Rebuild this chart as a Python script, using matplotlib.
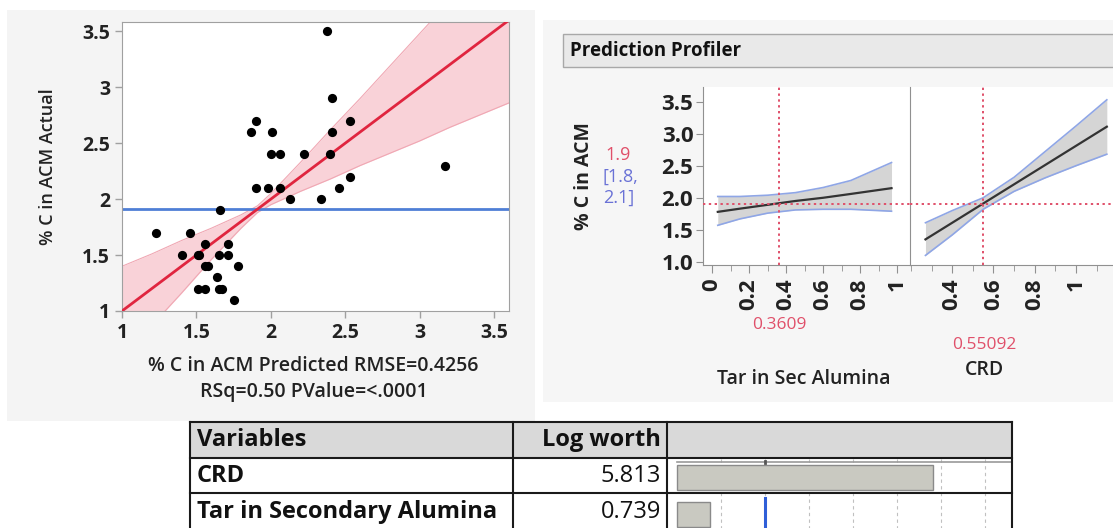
import matplotlib
matplotlib.use("Agg")
import matplotlib.pyplot as plt
from matplotlib.patches import Rectangle
from matplotlib.ticker import FixedLocator, MultipleLocator

W, H = 1113, 528
plt.rcParams['font.family'] = ['Open Sans', 'DejaVu Sans']

# ---------------- data ----------------
pred_x = [1.23, 1.40, 1.46, 1.51, 1.52, 1.51, 1.56, 1.56, 1.56, 1.58, 1.64, 1.65, 1.65, 1.67,
          1.66, 1.71, 1.71, 1.78, 1.75, 1.87, 1.90, 1.90, 1.98, 2.00, 2.01, 2.06, 2.06, 2.13,
          2.22, 2.34, 2.38, 2.41, 2.41, 2.40, 2.46, 2.53, 2.53, 3.17]
actual_y = [1.7, 1.5, 1.7, 1.5, 1.5, 1.2, 1.2, 1.6, 1.4, 1.4, 1.3, 1.5, 1.2, 1.2,
            1.9, 1.6, 1.5, 1.4, 1.1, 2.6, 2.7, 2.1, 2.1, 2.4, 2.6, 2.4, 2.1, 2.0,
            2.4, 2.0, 3.5, 2.9, 2.6, 2.4, 2.1, 2.7, 2.2, 2.3]
mean_actual = 1.91
fit_x = [1.0, 3.6]
fit_y = [1.0, 3.6]
band_x = [1.0, 1.2, 1.4, 1.6, 1.7, 1.8, 1.91, 2.0, 2.1, 2.2, 2.4, 2.6, 2.8, 3.0, 3.2, 3.4, 3.6]
band_lo = [0.60, 0.87, 1.16, 1.46, 1.60, 1.74, 1.88, 1.95, 2.01, 2.07, 2.18, 2.30, 2.41, 2.52, 2.64, 2.75, 2.86]
band_hi = [1.40, 1.51, 1.63, 1.74, 1.80, 1.86, 1.94, 2.05, 2.19, 2.33, 2.62, 2.90, 3.19, 3.48, 3.77, 4.05, 4.34]

tar_x = [0.03, 0.15, 0.30, 0.45, 0.60, 0.75, 0.97]
tar_mean = [1.78, 1.83, 1.89, 1.95, 2.00, 2.06, 2.15]
tar_hi = [2.02, 2.02, 2.04, 2.08, 2.16, 2.27, 2.55]
tar_lo = [1.57, 1.67, 1.76, 1.81, 1.82, 1.82, 1.79]
crd_x = [0.27, 0.40, 0.55, 0.70, 0.85, 1.00, 1.15]
crd_mean = [1.35, 1.61, 1.91, 2.21, 2.51, 2.81, 3.11]
crd_hi = [1.61, 1.80, 2.00, 2.32, 2.72, 3.12, 3.53]
crd_lo = [1.10, 1.42, 1.82, 2.10, 2.31, 2.50, 2.68]
tar_current = 0.3609
crd_current = 0.55092
pred_value = 1.91

variables = ["CRD", "Tar in Secondary Alumina"]
logworth = [5.813, 0.739]

# ---------------- helpers ----------------
fig = plt.figure(figsize=(W / 100, H / 100), dpi=100)
fig.patch.set_facecolor('white')


def box(l, t, r, b):
    return [l / W, 1 - b / H, (r - l) / W, (b - t) / H]


def frect(l, t, r, b, **kw):
    fig.add_artist(Rectangle((l / W, 1 - b / H), (r - l) / W, (b - t) / H,
                             transform=fig.transFigure, **kw))


def ftext(x, y, s, **kw):
    fig.text(x / W, 1 - y / H, s, **kw)


# background panels
frect(7, 10, 535, 421, facecolor='#f4f4f4', edgecolor='none', zorder=-2)
frect(543, 20, 1113, 402, facecolor='#f6f6f6', edgecolor='none', zorder=-2)

# ---------------- scatter (actual by predicted) ----------------
ax = fig.add_axes(box(122, 22, 509, 311))
ax.set_facecolor('white')
ax.fill_between(band_x, band_lo, band_hi, color='#f7c3cb', alpha=0.75, lw=0, zorder=1)
ax.plot(band_x, band_lo, color='#f0a7b3', lw=0.8, zorder=1)
ax.plot(band_x, band_hi, color='#f0a7b3', lw=0.8, zorder=1)
ax.axhline(mean_actual, color='#4f7fd6', lw=2, zorder=2)
ax.plot(fit_x, fit_y, color='#e0253f', lw=2, zorder=3)
ax.scatter(pred_x, actual_y, s=44, color='black', zorder=4, linewidths=0)
ax.set_xlim(1, 3.6)
ax.set_ylim(1, 3.583)
ticks = [1, 1.5, 2, 2.5, 3, 3.5]
labels = ['1', '1.5', '2', '2.5', '3', '3.5']
ax.set_xticks(ticks)
ax.set_xticklabels(labels, fontweight='bold')
ax.set_yticks(ticks)
ax.set_yticklabels(labels, fontweight='bold')
for sp in ax.spines.values():
    sp.set_color('#a0a0a0')
ax.tick_params(colors='#a0a0a0', labelcolor='#222222', labelsize=14, length=5, width=1)
ax.set_ylabel('% C in ACM Actual', fontsize=13, fontweight='semibold', color='#222222', labelpad=18)
ftext(313, 366, '% C in ACM Predicted RMSE=0.4256', ha='center', va='center',
      fontsize=14, fontweight='semibold', color='#222222')
ftext(314, 392, 'RSq=0.50 PValue=<.0001', ha='center', va='center',
      fontsize=14, fontweight='semibold', color='#222222')

# ---------------- prediction profiler ----------------
frect(563, 34, 1120, 67, facecolor='#e9e9e9', edgecolor='#a8a8a8', lw=1, zorder=-1)
ftext(570, 50.5, 'Prediction Profiler', ha='left', va='center', fontsize=13.5,
      fontweight='bold', color='#111111')

axp1 = fig.add_axes(box(703, 87, 910, 265))
axp2 = fig.add_axes(box(910, 87, 1113, 265))
for a, xs, m, hi, lo, cur, xl in [
        (axp1, tar_x, tar_mean, tar_hi, tar_lo, tar_current, (-0.05, 1.07)),
        (axp2, crd_x, crd_mean, crd_hi, crd_lo, crd_current, (0.195, 1.18))]:
    a.set_facecolor('white')
    a.fill_between(xs, lo, hi, color='#d5d5d5', lw=0, zorder=1)
    a.plot(xs, hi, color='#8fa6e6', lw=1.2, zorder=2)
    a.plot(xs, lo, color='#8fa6e6', lw=1.2, zorder=2)
    a.plot(xs, m, color='#333333', lw=1.6, zorder=3)
    a.axhline(pred_value, color='#e0506a', lw=1.4, ls=(0, (1.2, 1.8)), zorder=4)
    a.axvline(cur, color='#e0506a', lw=1.4, ls=(0, (1.2, 1.8)), zorder=4)
    a.set_xlim(*xl)
    a.set_ylim(0.95, 3.73)
    for sp in a.spines.values():
        sp.set_color('#909090')
    a.spines['top'].set_visible(False)
    a.spines['right'].set_visible(False)
    a.xaxis.set_minor_locator(MultipleLocator(0.1))
    a.tick_params(axis='x', which='major', length=6, colors='#909090', labelcolor='#222222',
                  labelsize=16, labelrotation=90)
    a.tick_params(axis='x', which='minor', length=4, colors='#909090')

axp1.xaxis.set_major_locator(FixedLocator([0, 0.2, 0.4, 0.6, 0.8, 1.0]))
axp1.set_xticklabels(['0', '0.2', '0.4', '0.6', '0.8', '1'], rotation=90, fontweight='bold')
axp2.xaxis.set_major_locator(FixedLocator([0.4, 0.6, 0.8, 1.0]))
axp2.set_xticklabels(['0.4', '0.6', '0.8', '1'], rotation=90, fontweight='bold')
axp1.set_yticks([1.0, 1.5, 2.0, 2.5, 3.0, 3.5])
axp1.set_yticklabels(['1.0', '1.5', '2.0', '2.5', '3.0', '3.5'], fontweight='bold')
axp1.tick_params(axis='y', length=5, colors='#909090', labelcolor='#222222', labelsize=16, pad=2)
axp2.tick_params(axis='y', left=False, labelleft=False)
axp2.spines['left'].set_color('#909090')

ftext(584, 176, '% C in ACM', rotation=90, ha='center', va='center', fontsize=14,
      fontweight='bold', color='#222222')
ftext(605, 155, '1.9', ha='left', va='center', fontsize=13, color='#e0506a')
ftext(602, 177, '[1.8,', ha='left', va='center', fontsize=13, color='#6a72d6')
ftext(603, 198, '2.1]', ha='left', va='center', fontsize=13, color='#6a72d6')
ftext(779, 325, '0.3609', ha='center', va='center', fontsize=12.5, color='#e0506a')
ftext(984, 345, '0.55092', ha='center', va='center', fontsize=12.5, color='#e0506a')
ftext(804, 379, 'Tar in Sec Alumina', ha='center', va='center', fontsize=14,
      fontweight='semibold', color='#222222')
ftext(984, 370, 'CRD', ha='center', va='center', fontsize=14,
      fontweight='semibold', color='#222222')

# ---------------- log worth table ----------------
tl, tc1, tc2, tr = 190, 513, 667, 1012
tt, th, tr1, tb = 422, 458, 493, 530
frect(tl, tt, tr, th, facecolor='#d9d9d9', edgecolor='none', zorder=-1)
frect(tl, th, tr, tb, facecolor='white', edgecolor='none', zorder=-1)

bar_ax = fig.add_axes(box(tc2, th, tr, tb))
bar_ax.set_facecolor('none')
bar_ax.set_xlim(-0.227, 7.61)
bar_ax.set_ylim(72, 0)
for g in range(1, 8):
    bar_ax.axvline(g, color='#c0c0c0', lw=0.8, ls=(0, (3, 3)), zorder=1)
bar_ax.axhline(4, xmin=0.028, color='#9a9a9a', lw=1.2, zorder=2)
bar_ax.barh([19.5, 56.5], logworth, height=25, color='#c9c9c1', edgecolor='#8a8a8a',
            lw=1, zorder=3, left=0)
bar_ax.plot([2, 2], [39.5, 72], color='#2f5fd8', lw=2.2, zorder=4)
bar_ax.plot([2, 2], [3, 5], color='#555555', lw=2, zorder=4)
bar_ax.axis('off')

lines_ax = fig.add_axes([0, 0, 1, 1], facecolor='none')
lines_ax.set_xlim(0, W)
lines_ax.set_ylim(H, 0)
lines_ax.axis('off')
bl = '#1a1a1a'
for xv in [tl, tc1, tc2, tr]:
    lines_ax.plot([xv, xv], [tt, tb], color=bl, lw=1.5)
for yv in [tt, th, tr1]:
    lines_ax.plot([tl, tr], [yv, yv], color=bl, lw=1.5)

ftext(197, 440, 'Variables', ha='left', va='center', fontsize=17, fontweight='bold', color='#111111')
ftext(661, 440, 'Log worth', ha='right', va='center', fontsize=17, fontweight='bold', color='#111111')
row_y = [476, 512]
for v, lw_, y in zip(variables, logworth, row_y):
    ftext(197, y, v, ha='left', va='center', fontsize=17, fontweight='bold', color='#111111')
    ftext(661, y, f'{lw_:.3f}', ha='right', va='center', fontsize=17, color='#111111')

fig.savefig('out.png', dpi=100)
